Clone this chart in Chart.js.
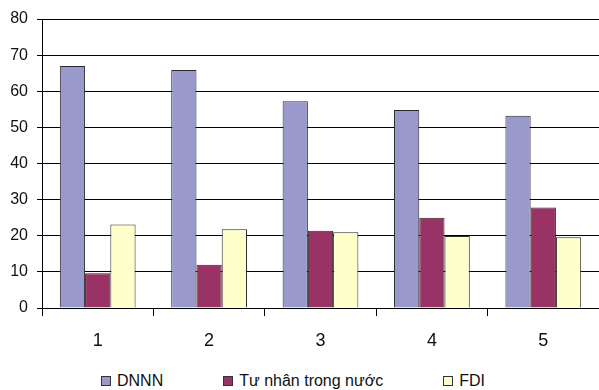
<!DOCTYPE html>
<html>
<head>
<meta charset="utf-8">
<script src="https://cdn.jsdelivr.net/npm/chart.js@4"></script>
<style>
  html, body { margin: 0; padding: 0; background: #fff; }
  #wrap { position: relative; width: 599px; height: 390px; }
  #chart { display: block; }
  #legend {
    position: absolute; left: 0; top: 372px; width: 599px; height: 18px;
    display: flex; align-items: center; gap: 60px;
    padding-left: 101px; box-sizing: border-box;
    font: 16px "Liberation Sans", Arial, sans-serif; color: #111;
  }
  #legend .item { display: flex; align-items: center; white-space: nowrap; }
  #legend .box {
    width: 8px; height: 8px; margin-right: 6px;
    border: 1px solid #333;
  }
</style>
</head>
<body>
<div id="wrap">
  <canvas id="chart" width="599" height="358"></canvas>
  <div id="legend"></div>
</div>
<script>
// nhóm năm trên trục hoành
const categories = ['1', '2', '3', '4', '5'];
// tỷ trọng theo loại hình doanh nghiệp (%)
const dnnn = [67.0, 65.9, 57.2, 54.8, 53.2];
const tuNhan = [9.6, 12.0, 21.4, 25.0, 27.8];
const fdi = [23.1, 21.8, 21.0, 19.9, 19.6];
const yTicks = [0, 10, 20, 30, 40, 50, 60, 70, 80];

const fontFamily = '"Liberation Sans", Arial, sans-serif';

const chart = new Chart(document.getElementById('chart').getContext('2d'), {
    type: 'bar',
    data: {
        labels: categories,
        datasets: [
            { label: 'DNNN', data: dnnn, backgroundColor: '#9999cc' },
            { label: 'Tư nhân trong nước', data: tuNhan, backgroundColor: '#993366' },
            { label: 'FDI', data: fdi, backgroundColor: '#ffffcc' }
        ]
    },
    options: {
        responsive: false,
        animation: false,
        layout: { padding: { top: 19, right: 0, left: 0, bottom: 0 } },
        datasets: {
            bar: {
                borderColor: '#2a2a2a',
                borderWidth: 1,
                categoryPercentage: 0.68,
                barPercentage: 1.0
            }
        },
        scales: {
            x: {
                grid: {
                    offset: true,
                    drawOnChartArea: false,
                    color: '#000',
                    tickLength: 8
                },
                border: { color: '#000', width: 1 },
                ticks: {
                    color: '#111',
                    padding: 14,
                    font: { family: fontFamily, size: 18 }
                },
                afterFit: (s) => { s.height = 50; }
            },
            y: {
                min: 0,
                max: 80,
                afterBuildTicks: (s) => { s.ticks = yTicks.map(v => ({ value: v })); },
                grid: { color: '#000', tickLength: 5 },
                border: { color: '#000', width: 1 },
                ticks: {
                    color: '#111',
                    padding: 9,
                    font: { family: fontFamily, size: 16 }
                },
                afterFit: (s) => { s.width = 42; }
            }
        },
        plugins: {
            tooltip: { enabled: false },
            legend: { display: false }
        }
    }
});

// chú thích dựng bằng HTML từ chính các dataset
const legendEl = document.getElementById('legend');
chart.data.datasets.forEach(ds => {
    const item = document.createElement('div');
    item.className = 'item';
    const box = document.createElement('span');
    box.className = 'box';
    box.style.background = ds.backgroundColor;
    const text = document.createElement('span');
    text.textContent = ds.label;
    item.appendChild(box);
    item.appendChild(text);
    legendEl.appendChild(item);
});
</script>
</body>
</html>
